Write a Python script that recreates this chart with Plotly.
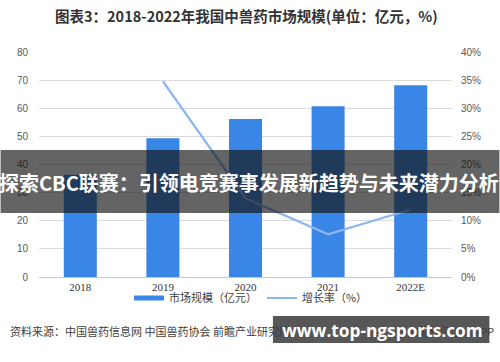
import plotly.graph_objects as go

years = ["2018", "2019", "2020", "2021", "2022E"]
market_size = [36.4, 49.3, 56.2, 60.7, 68.2]
growth_years = ["2019", "2020", "2021", "2022E"]
growth_rate = [34.8, 14.0, 7.6, 12.0]
left_ticks = [0, 10, 20, 30, 40, 50, 60, 70, 80]
right_ticks = [0, 5, 10, 15, 20, 25, 30, 35, 40]

title_text = "图表3：2018-2022年我国中兽药市场规模(单位：亿元，%)"
source_text = "资料来源：中国兽药信息网 中国兽药协会 前瞻产业研究院"
source_right = "@前瞻经济学人APP"
banner_text = "探索CBC联赛：引领电竞赛事发展新趋势与未来潜力分析"
site_text = "www.top-ngsports.com"

CJK = "Noto Sans CJK SC"
BAR_COLOR = "#3a86e6"

plot_l, plot_r, plot_t, plot_b = 38.5, 452.5, 52, 277
def px_to_paper_x(px):
    return (px - plot_l) / (plot_r - plot_l)
def px_to_paper_y(py):
    return (plot_b - py) / (plot_b - plot_t)

fig = go.Figure()
fig.add_trace(go.Bar(
    x=years, y=market_size, name="市场规模（亿元）",
    marker=dict(color=BAR_COLOR, line=dict(width=0)),
    width=0.4, yaxis="y", showlegend=False,
))
# legend entry for the bars (flat rectangle like the reference)
fig.add_trace(go.Scatter(
    x=[years[0]], y=[None], name="市场规模（亿元）", mode="lines",
    line=dict(color=BAR_COLOR, width=5), yaxis="y", hoverinfo="skip",
))
fig.add_trace(go.Scatter(
    x=growth_years, y=growth_rate, name="增长率（%）",
    mode="lines", line=dict(color="#8db6ee", width=2.2),
    yaxis="y2",
))

fig.update_layout(
    width=500, height=362,
    margin=dict(l=plot_l, r=500 - plot_r, t=plot_t, b=362 - plot_b, autoexpand=False),
    paper_bgcolor="white", plot_bgcolor="white",
    showlegend=True,
    legend=dict(orientation="h", x=px_to_paper_x(251), xanchor="center", y=px_to_paper_y(298), yanchor="middle",
                font=dict(family=CJK, size=11, color="#404040"),
                itemwidth=30, bgcolor="rgba(0,0,0,0)"),
    xaxis=dict(type="category", showgrid=False, showline=True, linecolor="#c8c8c8",
               linewidth=1, ticks="", tickfont=dict(family="Liberation Serif", size=11, color="#333333"),
               fixedrange=True),
    yaxis=dict(range=[0, 80], tickvals=left_ticks, showgrid=True, gridcolor="#dcdcdc",
               gridwidth=1, zeroline=False, ticks="", ticklabelstandoff=10,
               tickfont=dict(family="Liberation Sans", size=10, color="#595959")),
    yaxis2=dict(range=[0, 40], tickvals=right_ticks, ticktext=[f"{v}%" for v in right_ticks],
                overlaying="y", side="right", showgrid=False, zeroline=False, ticks="",
                ticklabelstandoff=8,
                tickfont=dict(family="Liberation Sans", size=10, color="#595959")),
    font=dict(family=CJK),
)

ann = [
    dict(text="<b>" + title_text + "</b>", x=px_to_paper_x(247), y=px_to_paper_y(15),
         font=dict(family=CJK, size=14.5, color="#333333"), xanchor="center", yanchor="middle"),
    dict(text=source_text, x=px_to_paper_x(7), y=px_to_paper_y(331),
         font=dict(family=CJK, size=11, color="#404040"), xanchor="left", yanchor="middle"),
    dict(text=source_right, x=px_to_paper_x(497), y=px_to_paper_y(331),
         font=dict(family=CJK, size=11, color="#404040"), xanchor="right", yanchor="middle"),
    dict(text="<b>" + banner_text + "</b>", x=px_to_paper_x(249), y=px_to_paper_y(182),
         font=dict(family=CJK, size=20, color="white"), xanchor="center", yanchor="middle"),
    dict(text="<b>" + site_text + "</b>", x=px_to_paper_x(383), y=px_to_paper_y(330),
         font=dict(family="Open Sans", size=17.3, color="white"), xanchor="center", yanchor="middle"),
]
for a in ann:
    a.update(xref="paper", yref="paper", showarrow=False)

shapes = [
    dict(type="rect", xref="paper", yref="paper", layer="above",
         x0=px_to_paper_x(0), x1=px_to_paper_x(500), y0=px_to_paper_y(213), y1=px_to_paper_y(150),
         fillcolor="rgba(17,17,17,0.65)", line=dict(width=0)),
    dict(type="rect", xref="paper", yref="paper", layer="above",
         x0=px_to_paper_x(273), x1=px_to_paper_x(490), y0=px_to_paper_y(343), y1=px_to_paper_y(316),
         fillcolor="rgba(50,50,50,0.82)", line=dict(width=0)),
]

fig.update_layout(annotations=ann, shapes=shapes)
fig.write_html("out.html", config={"displayModeBar": False},
               post_script="document.body.style.margin='0';document.body.style.overflow='hidden';")
